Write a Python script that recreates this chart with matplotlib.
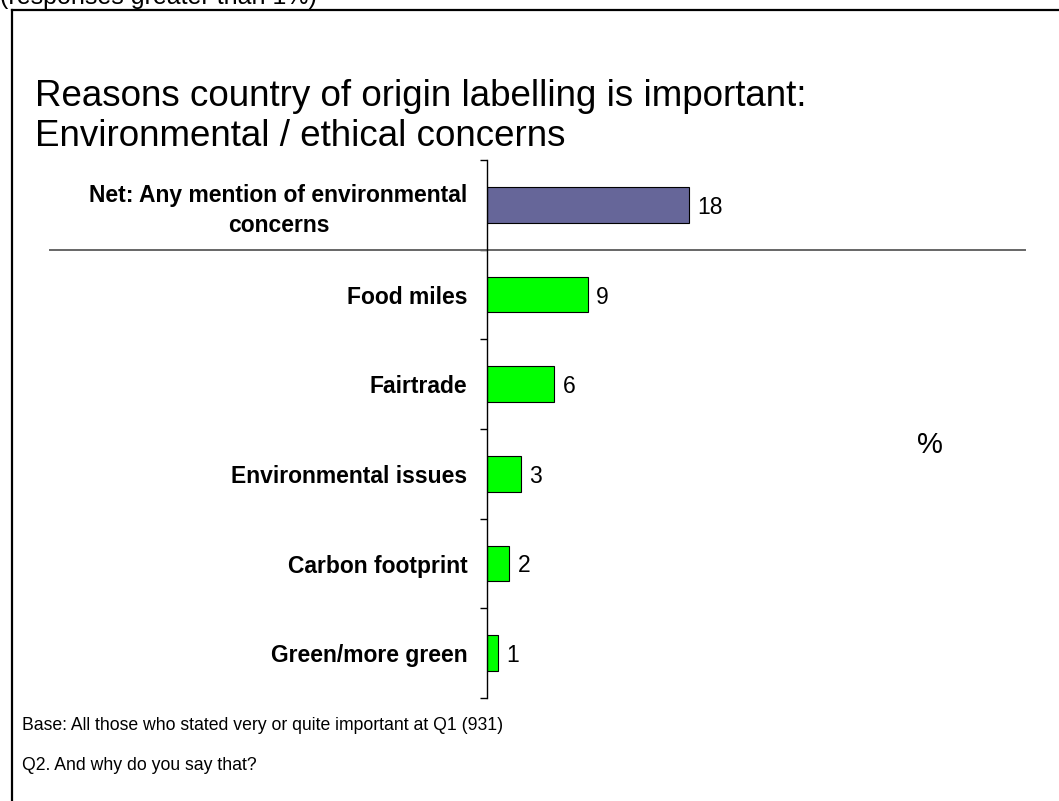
import numpy as np
import matplotlib
matplotlib.use('Agg')
import matplotlib.pyplot as plt
from matplotlib.lines import Line2D

plt.rcParams['font.family'] = ['Liberation Sans', 'DejaVu Sans']

# data
categories = ['Net: Any mention of environmental\nconcerns', 'Food miles', 'Fairtrade',
              'Environmental issues', 'Carbon footprint', 'Green/more green']
values = [18, 9, 6, 3, 2, 1]
bar_colors = ['#666699', '#00ff00', '#00ff00', '#00ff00', '#00ff00', '#00ff00']

W, H = 1059, 801
fig = plt.figure(figsize=(W / 100, H / 100), dpi=100)

# frame around the slide
fig.add_artist(Line2D([12 / W, 12 / W], [0, 1 - 10 / H], color='black', lw=1.6))
fig.add_artist(Line2D([12 / W, 1], [1 - 10 / H, 1 - 10 / H], color='black', lw=1.6))

# subtitle sits partly above the page edge
fig.text(0, 1 - 4 / H, '(responses greater than 1%)', fontsize=18, ha='left', va='baseline')

fig.text(35 / W, 1 - 97 / H, 'Reasons country of origin labelling is important:',
         fontsize=26.5, ha='left', va='center')
fig.text(35 / W, 1 - 137 / H, 'Environmental / ethical concerns',
         fontsize=26.5, ha='left', va='center')

ax_l, ax_r, ax_t, ax_b = 487, 1025, 160, 698
ax = fig.add_axes([ax_l / W, 1 - ax_b / H, (ax_r - ax_l) / W, (ax_b - ax_t) / H])

y = np.arange(len(categories))
ax.barh(y, values, height=0.4, color=bar_colors, edgecolor='black', linewidth=0.8)
for yi, v in zip(y, values):
    ax.annotate(str(v), (v, yi), xytext=(6, 0), textcoords='offset points',
                ha='left', va='center_baseline', fontsize=16.5)

ax.set_xlim(0, 48)
ax.set_ylim(len(categories) - 0.5, -0.5)
for s in ['top', 'right', 'bottom']:
    ax.spines[s].set_visible(False)
ax.spines['left'].set_linewidth(1.0)
ax.set_xticks([])
ax.set_yticks(y)
ax.set_yticklabels(categories, fontsize=16.5, fontweight='bold')
for lab in ax.get_yticklabels():
    lab.set_multialignment('center')
    lab.set_linespacing(1.35)
ax.tick_params(axis='y', which='major', length=0, pad=14)
ax.set_yticks(np.arange(-0.5, len(categories)), minor=True)
ax.tick_params(axis='y', which='minor', length=5, width=1.0, direction='out')

# divider under the net row
ax.axhline(0.5, xmin=(50 - ax_l) / (ax_r - ax_l), xmax=1.0, color='#666666',
           lw=1.4, clip_on=False)

fig.text(930 / W, 1 - 445 / H, '%', fontsize=21, ha='center', va='center')

fig.text(22 / W, 1 - 725 / H, 'Base: All those who stated very or quite important at Q1 (931)',
         fontsize=12.7, ha='left', va='center')
fig.text(22 / W, 1 - 765 / H, 'Q2. And why do you say that?',
         fontsize=12.7, ha='left', va='center')

fig.savefig('out.png', dpi=100)
